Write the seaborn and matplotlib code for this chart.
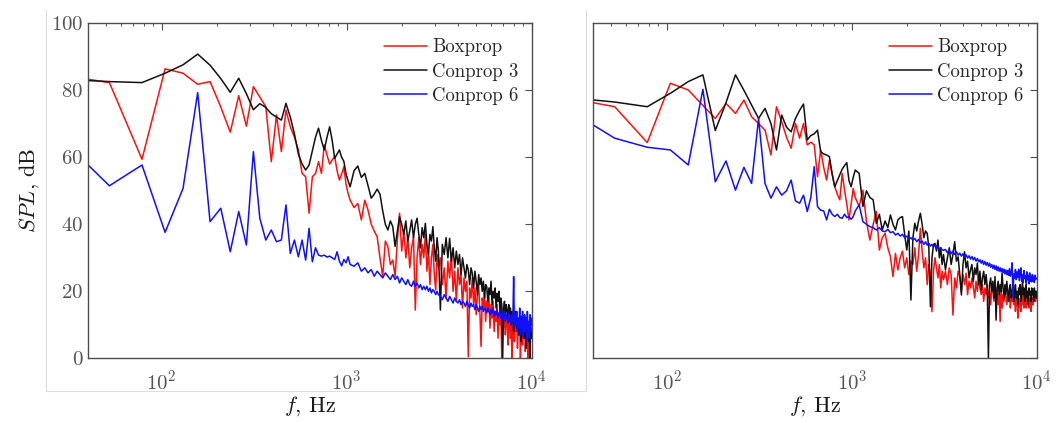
import numpy as np
import pandas as pd
import matplotlib
matplotlib.use("Agg")
import matplotlib.pyplot as plt
from matplotlib.lines import Line2D
import seaborn as sns

# FFT bins (df ~ 26.1 Hz): every bin to ~1 kHz, every 2nd to ~3 kHz, every 3rd above
k_bins = np.r_[np.arange(1, 41), np.arange(42, 121, 2), np.arange(123, 385, 3)]
freq = 26.1 * k_bins

cases = ["Boxprop", "Conprop 3", "Conprop 6"]
colors = {"Boxprop": "#ff1010", "Conprop 3": "#111111", "Conprop 6": "#1010ff"}

# ---- left panel ----
box_left = [
    84.9, 82.3, 59.4, 86.4, 85.1, 81.8, 82.6, 75.0, 67.5, 78.4,
    69.3, 81.1, 78.0, 75.1, 58.7, 72.6, 61.7, 74.1, 69.1, 66.0,
    62.2, 55.2, 54.2, 43.3, 54.2, 55.2, 58.7, 55.2, 63.7, 60.7,
    58.0, 59.2, 60.2, 56.0, 53.2, 55.0, 57.2, 52.0, 49.2, 47.2,
    # k 42..120
    45.0, 46.2, 41.3, 47.2, 44.2, 40.0, 38.0, 36.3, 30.0, 24.4,
    35.0, 33.3, 28.0, 29.3, 24.4, 35.3, 43.3, 32.0, 38.0, 30.0,
    36.0, 27.0, 33.0, 36.3, 14.4, 30.0, 36.0, 28.0, 34.0, 30.0,
    37.0, 26.0, 32.0, 22.0, 30.0, 34.0, 25.0, 20.4, 31.0, 27.0,
    # k 123..384
    30.0, 22.0, 27.0, 18.0, 29.0, 24.0, 31.0, 20.0, 26.0, 17.0,
    27.0, 22.0, 25.0, 15.0, 24.0, 20.0, 23.0, 0.5, 21.0, 18.0,
    24.0, 16.0, 21.0, 13.0, 19.0, 22.0, 14.0, 3.5, 18.0, 15.0,
    20.0, 11.0, 17.0, 14.0, 19.0, 9.0, 16.0, 12.0, 17.0, 8.0,
    14.0, 11.0, 16.0, 6.0, 13.0, 10.0, 15.0, 0.0, 12.0, 9.0,
    14.0, 7.0, 11.0, 13.0, 4.0, 10.0, 12.0, 6.0, 11.0, 0.0,
    9.0, 13.0, 5.0, 10.0, 8.0, 12.0, 3.0, 9.0, 7.0, 11.0,
    0.0, 8.0, 10.0, 4.0, 9.0, 6.0, 11.0, 2.0, 8.0, 5.0,
    10.0, 0.0, 7.0, 9.0, 3.0, 8.0, 6.0, 9.0,
]
con3_left = [
    83.4, 82.6, 82.3, 85.1, 87.6, 90.8, 87.5, 83.5, 79.4, 83.6,
    79.0, 74.2, 76.0, 74.9, 73.0, 72.0, 71.1, 76.1, 72.0, 67.0,
    61.0, 58.0, 56.2, 57.7, 62.0, 66.0, 68.7, 65.0, 62.2, 66.0,
    69.1, 65.0, 59.7, 61.0, 62.2, 60.0, 58.8, 55.0, 53.0, 51.2,
    56.0, 57.4, 54.0, 55.2, 51.5, 47.8, 49.0, 50.5, 49.0, 44.0,
    40.0, 38.3, 41.0, 39.3, 33.4, 38.0, 42.3, 40.0, 37.0, 41.0,
    35.0, 38.0, 41.3, 36.0, 40.0, 41.8, 37.0, 33.0, 39.0, 36.0,
    40.3, 34.0, 31.0, 37.0, 35.0, 39.3, 33.0, 29.0, 36.0, 32.0,
    14.4, 34.0, 31.0, 36.0, 30.0, 35.8, 29.0, 33.0, 27.0, 32.0,
    28.0, 31.0, 25.0, 30.0, 27.0, 24.0, 28.0, 26.4, 22.0, 27.0,
    25.4, 21.0, 26.0, 23.0, 19.0, 25.0, 22.0, 24.0, 20.0, 23.0,
    18.0, 22.0, 21.4, 17.0, 21.0, 19.0, 23.0, 16.0, 20.0, 18.0,
    21.0, 15.0, 19.4, 17.0, 20.0, 14.0, 18.0, 16.0, 0.0, 15.0,
    17.0, 13.0, 16.0, 14.4, 11.0, 16.0, 13.0, 15.0, 10.0, 14.0,
    12.0, 8.0, 13.0, 11.0, 14.0, 9.0, 12.0, 11.4, 7.0, 12.0,
    10.0, 5.0, 11.0, 9.0, 12.0, 6.0, 10.0, 8.0, 3.0, 9.0,
    7.5, 10.0, 5.0, 8.0, 0.0, 9.0, 6.0, 7.5,
]
con6_left = [
    67.7, 51.5, 57.7, 37.6, 50.7, 79.3, 40.8, 44.8, 31.8, 43.8,
    33.8, 61.7, 41.8, 35.3, 38.3, 34.8, 35.3, 45.8, 31.3, 35.3,
    30.3, 35.3, 29.3, 38.8, 28.8, 33.0, 30.8, 30.5, 30.8, 30.2,
    30.5, 30.0, 29.5, 31.8, 29.0, 27.6, 29.5, 28.5, 30.3, 28.0,
    27.5, 28.5, 26.0, 27.0, 25.5, 26.5, 24.5, 26.0, 25.0, 24.0,
    25.5, 24.5, 23.5, 25.0, 23.5, 24.5, 22.5, 24.0, 23.0, 22.0,
    23.5, 22.0, 21.5, 23.0, 21.5, 22.5, 21.0, 22.0, 20.5, 21.5,
    20.5, 21.5, 20.0, 21.0, 19.5, 20.5, 20.0, 19.0, 20.0, 19.0,
    18.5, 17.5, 19.0, 18.0, 17.0, 18.5, 17.5, 16.5, 18.0, 17.0,
    16.5, 17.5, 16.0, 17.0, 16.5, 15.5, 17.0, 16.0, 15.0, 16.5,
    15.5, 16.0, 14.5, 16.0, 15.0, 14.0, 15.5, 14.5, 15.5, 14.0,
    15.0, 14.5, 13.5, 15.0, 14.0, 13.0, 14.5, 13.5, 15.0, 12.5,
    14.0, 13.0, 14.5, 12.0, 13.5, 14.0, 12.0, 13.5, 11.5, 13.0,
    14.0, 11.0, 13.0, 12.5, 10.5, 13.5, 11.0, 12.5, 10.0, 13.0,
    11.0, 24.4, 9.5, 13.0, 10.0, 14.0, 8.0, 12.0, 9.0, 15.0,
    7.0, 12.5, 9.0, 14.0, 6.5, 11.0, 13.0, 8.0, 12.0, 5.0,
    14.0, 9.0, 11.0, 6.0, 13.0, 8.0, 12.0, 10.0,
]

# ---- right panel ----
box_right = [
    78.2, 75.1, 64.4, 82.1, 80.1, 75.5, 71.6, 76.1, 73.1, 77.1,
    72.1, 70.1, 68.1, 60.7, 75.1, 70.6, 66.0, 62.7, 70.1, 65.7,
    70.1, 63.7, 64.5, 63.7, 54.2, 62.2, 57.0, 53.2, 59.2, 55.0,
    51.2, 49.0, 47.3, 55.2, 50.2, 46.0, 41.3, 46.0, 50.7, 48.0,
    45.3, 50.2, 40.8, 35.3, 40.0, 43.8, 32.3, 36.0, 37.3, 33.0,
    30.3, 24.4, 31.3, 26.4, 30.0, 32.0, 27.0, 30.0, 25.0, 29.0,
    28.0, 33.0, 26.0, 31.0, 38.8, 32.0, 27.0, 30.0, 22.0, 28.0,
    25.0, 13.9, 26.0, 30.0, 27.0, 24.0, 28.0, 21.0, 26.0, 23.4,
    26.0, 22.0, 27.0, 25.0, 12.9, 24.0, 21.0, 26.0, 24.4, 20.0,
    25.0, 22.0, 25.4, 19.0, 23.0, 21.0, 24.0, 21.4, 18.0, 23.0,
    20.0, 24.4, 21.0, 19.0, 22.0, 17.0, 21.0, 19.0, 22.0, 18.0,
    20.0, 16.0, 21.0, 20.4, 17.0, 20.0, 18.0, 21.0, 16.0, 19.0,
    11.0, 20.0, 15.0, 19.0, 17.0, 20.0, 18.4, 16.0, 19.0, 17.0,
    20.0, 15.0, 18.0, 17.0, 19.0, 16.0, 18.0, 14.0, 17.0, 19.0,
    12.0, 18.0, 15.4, 17.0, 14.0, 18.0, 16.0, 19.0, 15.0, 17.0,
    18.4, 15.0, 18.4, 16.0, 19.0, 15.0, 17.0, 18.0, 14.0, 17.0,
    18.0, 16.0, 19.0, 17.0, 18.4, 17.0, 19.0, 18.0,
]
con3_right = [
    78.1, 76.5, 75.1, 79.1, 82.6, 84.6, 68.0, 76.3, 84.6, 80.0,
    75.6, 71.6, 74.6, 70.1, 62.2, 72.6, 69.0, 67.6, 71.6, 74.0,
    75.9, 65.2, 66.5, 67.0, 68.1, 61.7, 61.0, 60.7, 60.2, 55.0,
    51.2, 53.0, 54.7, 56.5, 57.5, 58.4, 53.0, 51.2, 54.0, 56.2,
    55.2, 45.3, 50.0, 48.0, 47.3, 40.3, 43.0, 38.3, 41.0, 39.0,
    42.8, 40.0, 38.3, 41.3, 42.0, 42.3, 37.0, 32.3, 38.0, 17.4,
    36.0, 40.3, 38.0, 41.0, 43.3, 40.0, 36.0, 38.0, 37.3, 33.0,
    15.4, 30.0, 34.0, 34.3, 32.0, 35.3, 30.0, 33.0, 28.0, 31.0,
    26.4, 30.0, 33.0, 28.0, 31.0, 34.8, 29.0, 30.3, 25.0, 18.9,
    28.0, 31.8, 27.0, 29.0, 24.0, 26.4, 28.0, 23.0, 27.0, 25.0,
    28.4, 22.0, 26.0, 20.4, 24.0, 26.0, 22.0, 25.0, 21.0, 0.0,
    22.0, 24.0, 20.0, 23.0, 18.0, 24.4, 11.4, 21.0, 23.0, 19.0,
    22.0, 20.0, 25.4, 21.0, 18.0, 22.0, 19.0, 23.0, 20.0, 17.0,
    21.0, 22.0, 18.0, 20.0, 21.4, 17.0, 20.0, 22.0, 18.0, 20.0,
    16.0, 21.0, 19.0, 22.0, 17.0, 20.0, 23.0, 19.0, 21.0, 17.0,
    20.0, 22.0, 18.0, 20.0, 16.0, 21.0, 19.0, 20.0, 17.0, 21.0,
    19.0, 20.0, 17.0, 21.0, 19.0, 20.0, 18.0, 20.0,
]
con6_right = [
    75.9, 65.7, 63.0, 62.2, 57.7, 80.3, 52.7, 58.9, 50.2, 57.0,
    52.2, 71.6, 52.2, 47.8, 51.2, 48.7, 50.0, 53.2, 47.0, 46.3,
    48.7, 43.8, 48.0, 57.2, 45.3, 44.2, 44.0, 41.3, 44.5, 43.0,
    42.3, 43.0, 42.0, 41.8, 43.0, 42.0, 42.3, 41.5, 42.3, 44.0,
    45.8, 40.8, 40.0, 39.3, 39.0, 38.3, 39.0, 38.0, 37.8, 38.5,
    37.5, 37.8, 36.8, 37.3, 36.5, 37.0, 36.0, 36.5, 35.5, 36.0,
    35.3, 35.8, 34.8, 35.5, 34.5, 35.0, 34.0, 34.8, 33.8, 34.3,
    33.5, 34.0, 33.2, 33.8, 32.8, 33.4, 32.6, 33.0, 32.4, 32.2,
    32.5, 31.5, 32.3, 31.2, 32.0, 31.0, 31.8, 30.8, 31.4, 30.5,
    31.2, 30.2, 30.9, 29.9, 30.6, 29.6, 30.4, 29.4, 30.1, 29.0,
    29.8, 28.8, 29.4, 28.4, 29.2, 28.0, 28.9, 27.8, 28.6, 27.5,
    28.4, 27.2, 28.0, 26.8, 27.8, 26.5, 27.6, 26.2, 27.3, 26.0,
    27.0, 25.8, 26.8, 25.5, 26.6, 25.2, 26.4, 25.0, 26.2, 24.8,
    26.8, 24.5, 25.6, 28.5, 18.4, 25.2, 24.0, 26.5, 23.5, 25.8,
    24.2, 26.6, 23.2, 25.4, 27.0, 23.0, 25.0, 22.6, 26.2, 23.8,
    24.6, 22.4, 25.8, 23.4, 24.8, 22.2, 25.5, 23.0, 24.2, 22.8,
    25.0, 23.2, 24.5, 22.6, 24.8, 23.5, 24.0, 23.8,
]

panels = [
    {"Boxprop": box_left, "Conprop 3": con3_left, "Conprop 6": con6_left},
    {"Boxprop": box_right, "Conprop 3": con3_right, "Conprop 6": con6_right},
]

sns.set_theme(style="white")
plt.rcParams["font.family"] = ["cmr10", "DejaVu Serif"]
plt.rcParams["mathtext.fontset"] = "cm"
plt.rcParams["axes.formatter.use_mathtext"] = True

fig = plt.figure(figsize=(10.64, 4.23), dpi=100)
ax_l = fig.add_axes([88 / 1064, 64.7 / 423, 443.7 / 1064, 335 / 423])
ax_r = fig.add_axes([593.3 / 1064, 64.7 / 423, 443.4 / 1064, 335 / 423])

edge = "0.3"
for i, (ax, data) in enumerate(zip([ax_l, ax_r], panels)):
    df = pd.concat(
        [pd.DataFrame({"f": freq, "spl": data[c], "case": c}) for c in cases],
        ignore_index=True,
    )
    sns.lineplot(data=df, x="f", y="spl", hue="case", hue_order=cases,
                 palette=colors, estimator=None, sort=False, linewidth=1.1, ax=ax)
    ax.set_xscale("log")
    ax.set_xlim(40, 1e4)
    ax.set_ylim(0, 100)
    ax.set_yticks([0, 20, 40, 60, 80, 100])
    ax.tick_params(which="both", direction="in", top=True, right=True,
                   colors=edge, labelcolor="0.33", labelsize=15)
    ax.tick_params(which="major", length=5, width=0.8)
    ax.tick_params(which="minor", length=2.5, width=0.7)
    ax.tick_params(axis="x", pad=8)
    for s in ax.spines.values():
        s.set_color(edge)
        s.set_linewidth(1.0)
    ax.set_xlabel(r"$f$, Hz", fontsize=16, color="0.1")
    ax.xaxis.set_label_coords(0.5, -0.107)
    if i == 0:
        ax.set_ylabel(r"$SPL$, dB", fontsize=16, color="0.1")
        ax.yaxis.set_label_coords(-0.105, 0.5)
    else:
        ax.set_ylabel("")
        ax.set_yticklabels([])
    handles, labels = ax.get_legend_handles_labels()
    ax.legend(handles, labels, frameon=False, loc="upper right",
              bbox_to_anchor=(0.97, 0.955), borderaxespad=0, borderpad=0,
              handlelength=2.3, handletextpad=0.25, labelspacing=0.33,
              fontsize=13.5)

# thin borders of the original screenshot panels
gray = "#dcdcdc"
for x0 in (46, 586):
    fig.add_artist(Line2D([x0 / 1064, x0 / 1064], [1 - 10 / 423, 1 - 391 / 423],
                          transform=fig.transFigure, color=gray, lw=0.8))
fig.add_artist(Line2D([46 / 1064, 586 / 1064], [1 - 391 / 423, 1 - 391 / 423],
                      transform=fig.transFigure, color=gray, lw=0.8))

fig.savefig("out.png", dpi=100)
